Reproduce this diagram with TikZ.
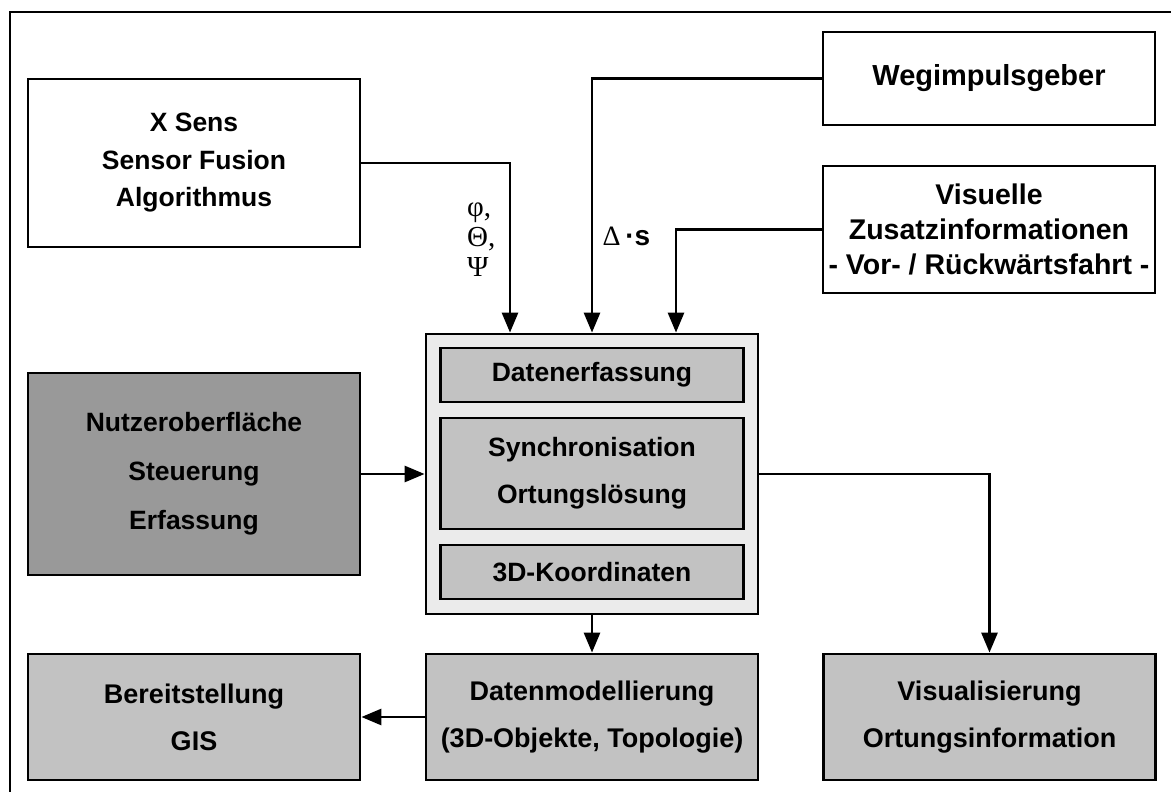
\documentclass[tikz,border=0pt]{standalone}
\usepackage{fontspec}
\setmainfont{Liberation Sans}
\newfontfamily\serifgr{Liberation Serif}
\usetikzlibrary{arrows.meta}
\definecolor{hellgrau}{gray}{0.92}
\definecolor{mittelgrau}{gray}{0.76}
\definecolor{dunkelgrau}{gray}{0.6}
\tikzset{
  kasten/.style={draw,line width=2.8pt,inner sep=0pt,minimum width=332pt,align=center,
    font=\bfseries\fontsize{26.5}{37.5}\selectfont},
  innen/.style={kasten,minimum width=303pt,fill=mittelgrau},
  fluss/.style={line width=2.8pt,->},
}
\begin{document}
\begin{tikzpicture}[x=1pt,y=-1pt,>={Triangle[length=20pt,width=16pt]}]
	\useasboundingbox (0,0) rectangle (1171,792);
	\draw[line width=1.4pt] (10,792) |- (1171,12);
	% Quellen
	\node[kasten,minimum height=168pt] (xsens) at (194,163) {X Sens\\Sensor Fusion\\Algorithmus};
	\node[kasten,minimum height=93pt,font=\bfseries\fontsize{29}{35}\selectfont] (weg) at (989,78.5) {Wegimpulsgeber};
	\node[kasten,minimum height=127pt,font=\bfseries\fontsize{28.5}{35}\selectfont] (visu) at (989,229.5) {Visuelle\\Zusatzinformationen\\- Vor- / Rückwärtsfahrt -};
	\node[kasten,minimum height=202pt,fill=dunkelgrau,font=\bfseries\fontsize{26.5}{49}\selectfont] (nutzer) at (194,474) {Nutzeroberfläche\\Steuerung\\Erfassung};
	% Kern
	\node[kasten,minimum height=280pt,fill=hellgrau] (kern) at (592,474) {};
	\node[innen,minimum height=54pt] (erfass) at (592,375) {Datenerfassung};
	\node[innen,minimum height=111pt,font=\bfseries\fontsize{26.5}{47}\selectfont] (sync) at (592,473.5) {Synchronisation\\Ortungslösung};
	\node[innen,minimum height=54pt] (koord) at (592,572) {3D-Koordinaten};
	% Ausgaben
	\node[kasten,minimum height=126pt,fill=mittelgrau,font=\bfseries\fontsize{27}{47}\selectfont] (bereit) at (194,717) {Bereitstellung\\GIS};
	\node[kasten,minimum height=126pt,fill=mittelgrau,font=\bfseries\fontsize{27}{47}\selectfont] (dmod) at (592,717) {Datenmodellierung\\(3D-Objekte, Topologie)};
	\node[kasten,minimum height=126pt,fill=mittelgrau,font=\bfseries\fontsize{27}{47}\selectfont] (visual) at (989.5,717) {Visualisierung\\Ortungsinformation};
	% Verbindungen
	\draw[fluss] (xsens.east) -| ([xshift=-82pt]kern.north)
		node[pos=0.727,left=10pt,align=left,font=\serifgr\fontsize{29}{30}\selectfont] (winkel) {φ,\\Θ,\\Ψ};
	\draw[fluss] (weg.west) -| (kern.north)
		node[pos=0.81,right=6pt,font=\fontsize{28}{30}\selectfont] (strecke) {{\serifgr Δ}\,\textbf{·s}};
	\draw[fluss] (visu.west) -| ([xshift=84pt]kern.north);
	\draw[fluss] (nutzer.east) -- (kern.west);
	\draw[fluss] (kern.east) -| (visual.north);
	\draw[fluss] (kern.south) -- (dmod.north);
	\draw[fluss] (dmod.west) -- (bereit.east);
\end{tikzpicture}
\end{document}
